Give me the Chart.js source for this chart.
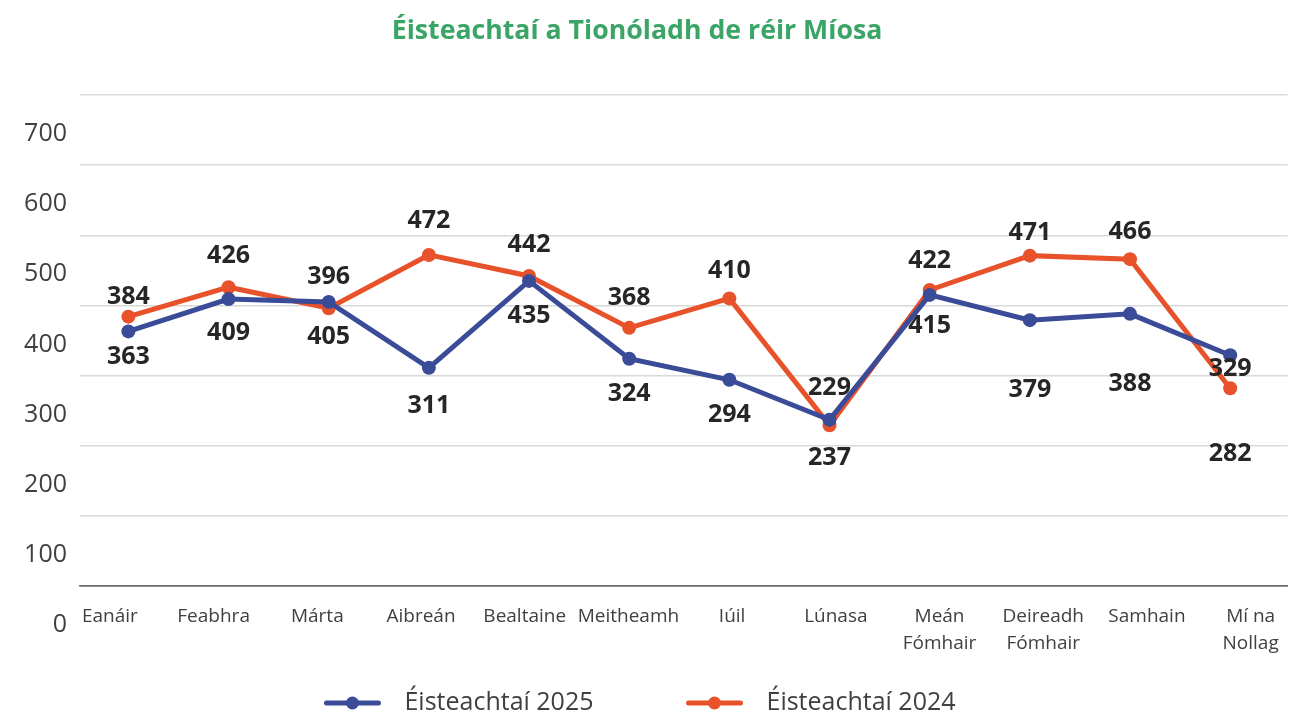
<!DOCTYPE html>
<html>
<head>
<meta charset="utf-8">
<script src="https://cdn.jsdelivr.net/npm/chart.js@4.4.1/dist/chart.umd.min.js"></script>
<style>
html,body{margin:0;padding:0;background:#ffffff;}
#wrap{width:1296px;height:717px;position:relative;}
</style>
</head>
<body>
<div id="wrap"><canvas id="c" width="1296" height="717"></canvas></div>
<script>
// ---- data ----
const chartTitle = 'Éisteachtaí a Tionóladh de réir Míosa';
const categories = ['Eanáir','Feabhra','Márta','Aibreán','Bealtaine','Meitheamh','Iúil','Lúnasa','Meán Fómhair','Deireadh Fómhair','Samhain','Mí na Nollag'];
const seriesNames = ['Éisteachtaí 2025','Éisteachtaí 2024'];
const values2025 = [363,409,405,311,435,324,294,237,415,379,388,329];
const values2024 = [384,426,396,472,442,368,410,229,422,471,466,282];
const yTickValues = [0,100,200,300,400,500,600,700];

// ---- styles ----
const BLUE = '#3a4b97';
const ORANGE = '#e8522b';
const GREEN = '#3aa566';
const AXIS_TEXT = '#404040';
const LABEL_TEXT = '#262626';
const FONT = '"Open Sans", "Noto Sans", sans-serif';
// vertical shift (px) of each value label from its point
const labelShift2025 = [25, 34, 35, 38, 35, 35, 35, 38, 31, 70, 70, 14];
const labelShift2024 = [-20, -31, -31, -34, -31, -30, -28, -37, -29, -23, -27, 66];

function splitLabel(s) {
  const i = s.lastIndexOf(' ');
  return i > 0 ? [s.slice(0, i), s.slice(i + 1)] : s;
}

const valueLabels = {
  id: 'valueLabels',
  afterDatasetsDraw(chart) {
    const ctx = chart.ctx;
    ctx.save();
    ctx.font = 'bold 25px ' + FONT;
    ctx.fillStyle = LABEL_TEXT;
    ctx.textAlign = 'center';
    ctx.textBaseline = 'middle';
    chart.data.datasets.forEach((ds, di) => {
      const meta = chart.getDatasetMeta(di);
      const shifts = ds.labelShift;
      meta.data.forEach((pt, i) => {
        ctx.fillText(String(ds.data[i].y), pt.x, pt.y + shifts[i]);
      });
    });
    ctx.restore();
  }
};

const titleAndLegend = {
  id: 'titleAndLegend',
  afterDraw(chart) {
    const ctx = chart.ctx;
    ctx.save();
    // title
    ctx.font = 'bold 26.7px ' + FONT;
    ctx.fillStyle = GREEN;
    ctx.textAlign = 'center';
    ctx.textBaseline = 'alphabetic';
    ctx.fillText(chartTitle, 637, 39);
    // legend
    ctx.font = '25px ' + FONT;
    const lineLen = 56, gap = 24, itemGap = 93, ly = 703;
    const items = chart.data.datasets.map(ds => ({
      label: ds.label, color: ds.borderColor, w: ctx.measureText(ds.label).width
    }));
    let total = 0;
    items.forEach((it, i) => { total += lineLen + gap + it.w + (i ? itemGap : 0); });
    let x = 640 - total / 2;
    items.forEach((it, i) => {
      if (i) x += itemGap;
      ctx.strokeStyle = it.color;
      ctx.lineWidth = 5;
      ctx.lineCap = 'round';
      ctx.beginPath();
      ctx.moveTo(x + 2, ly);
      ctx.lineTo(x + lineLen - 2, ly);
      ctx.stroke();
      ctx.fillStyle = it.color;
      ctx.beginPath();
      ctx.arc(x + lineLen / 2, ly, 6.5, 0, Math.PI * 2);
      ctx.fill();
      x += lineLen + gap;
      ctx.fillStyle = AXIS_TEXT;
      ctx.textAlign = 'left';
      ctx.textBaseline = 'middle';
      ctx.fillText(it.label, x, ly);
      x += it.w;
    });
    ctx.restore();
  }
};

const makeSeries = (vals) => vals.map((v, i) => ({ x: i, y: v }));

new Chart(document.getElementById('c'), {
  type: 'line',
  data: {
    datasets: [
      {
        label: seriesNames[0],
        data: makeSeries(values2025),
        borderColor: BLUE, backgroundColor: BLUE,
        pointBackgroundColor: BLUE, pointBorderColor: BLUE,
        borderWidth: 5, pointRadius: 7, pointHoverRadius: 7, pointBorderWidth: 0,
        tension: 0, xAxisID: 'x', yAxisID: 'y',
        labelShift: labelShift2025
      },
      {
        label: seriesNames[1],
        data: makeSeries(values2024),
        borderColor: ORANGE, backgroundColor: ORANGE,
        pointBackgroundColor: ORANGE, pointBorderColor: ORANGE,
        borderWidth: 5, pointRadius: 7, pointHoverRadius: 7, pointBorderWidth: 0,
        tension: 0, xAxisID: 'x', yAxisID: 'y',
        labelShift: labelShift2024
      }
    ]
  },
  options: {
    responsive: false,
    animation: false,
    devicePixelRatio: 1,
    layout: { padding: { top: 95, left: 0, right: 5, bottom: 56 } },
    plugins: {
      legend: { display: false },
      tooltip: { enabled: false },
      title: { display: false }
    },
    scales: {
      x: {
        type: 'linear', axis: 'x', display: false,
        min: -0.483, max: 11.573
      },
      xl: {
        type: 'linear', axis: 'x', position: 'bottom',
        min: -0.2885, max: 11.356,
        afterBuildTicks: (s) => { s.ticks = categories.map((_, i) => ({ value: i })); },
        afterFit: (s) => { s.height = 75; },
        grid: { display: false, drawTicks: false },
        border: { display: true, color: '#6b6b6b', width: 1.5 },
        ticks: {
          autoSkip: false, maxRotation: 0, minRotation: 0, padding: 17,
          color: AXIS_TEXT,
          font: { family: FONT, size: 19, lineHeight: 1.42 },
          callback: (v) => splitLabel(categories[v])
        }
      },
      y: {
        type: 'linear', position: 'left',
        min: 0, max: 700,
        afterBuildTicks: (s) => { s.ticks = yTickValues.map(v => ({ value: v })); },
        afterFit: (s) => { s.width = 80; },
        border: { display: false },
        grid: {
          drawTicks: false,
          color: (c) => c.tick && c.tick.value === 0 ? '#6b6b6b' : '#d9d9d9',
          lineWidth: 1.5
        },
        ticks: {
          padding: 13, labelOffset: 39,
          color: AXIS_TEXT,
          font: { family: FONT, size: 25 },
          callback: (v) => String(v)
        }
      }
    }
  },
  plugins: [valueLabels, titleAndLegend]
});
</script>
</body>
</html>
